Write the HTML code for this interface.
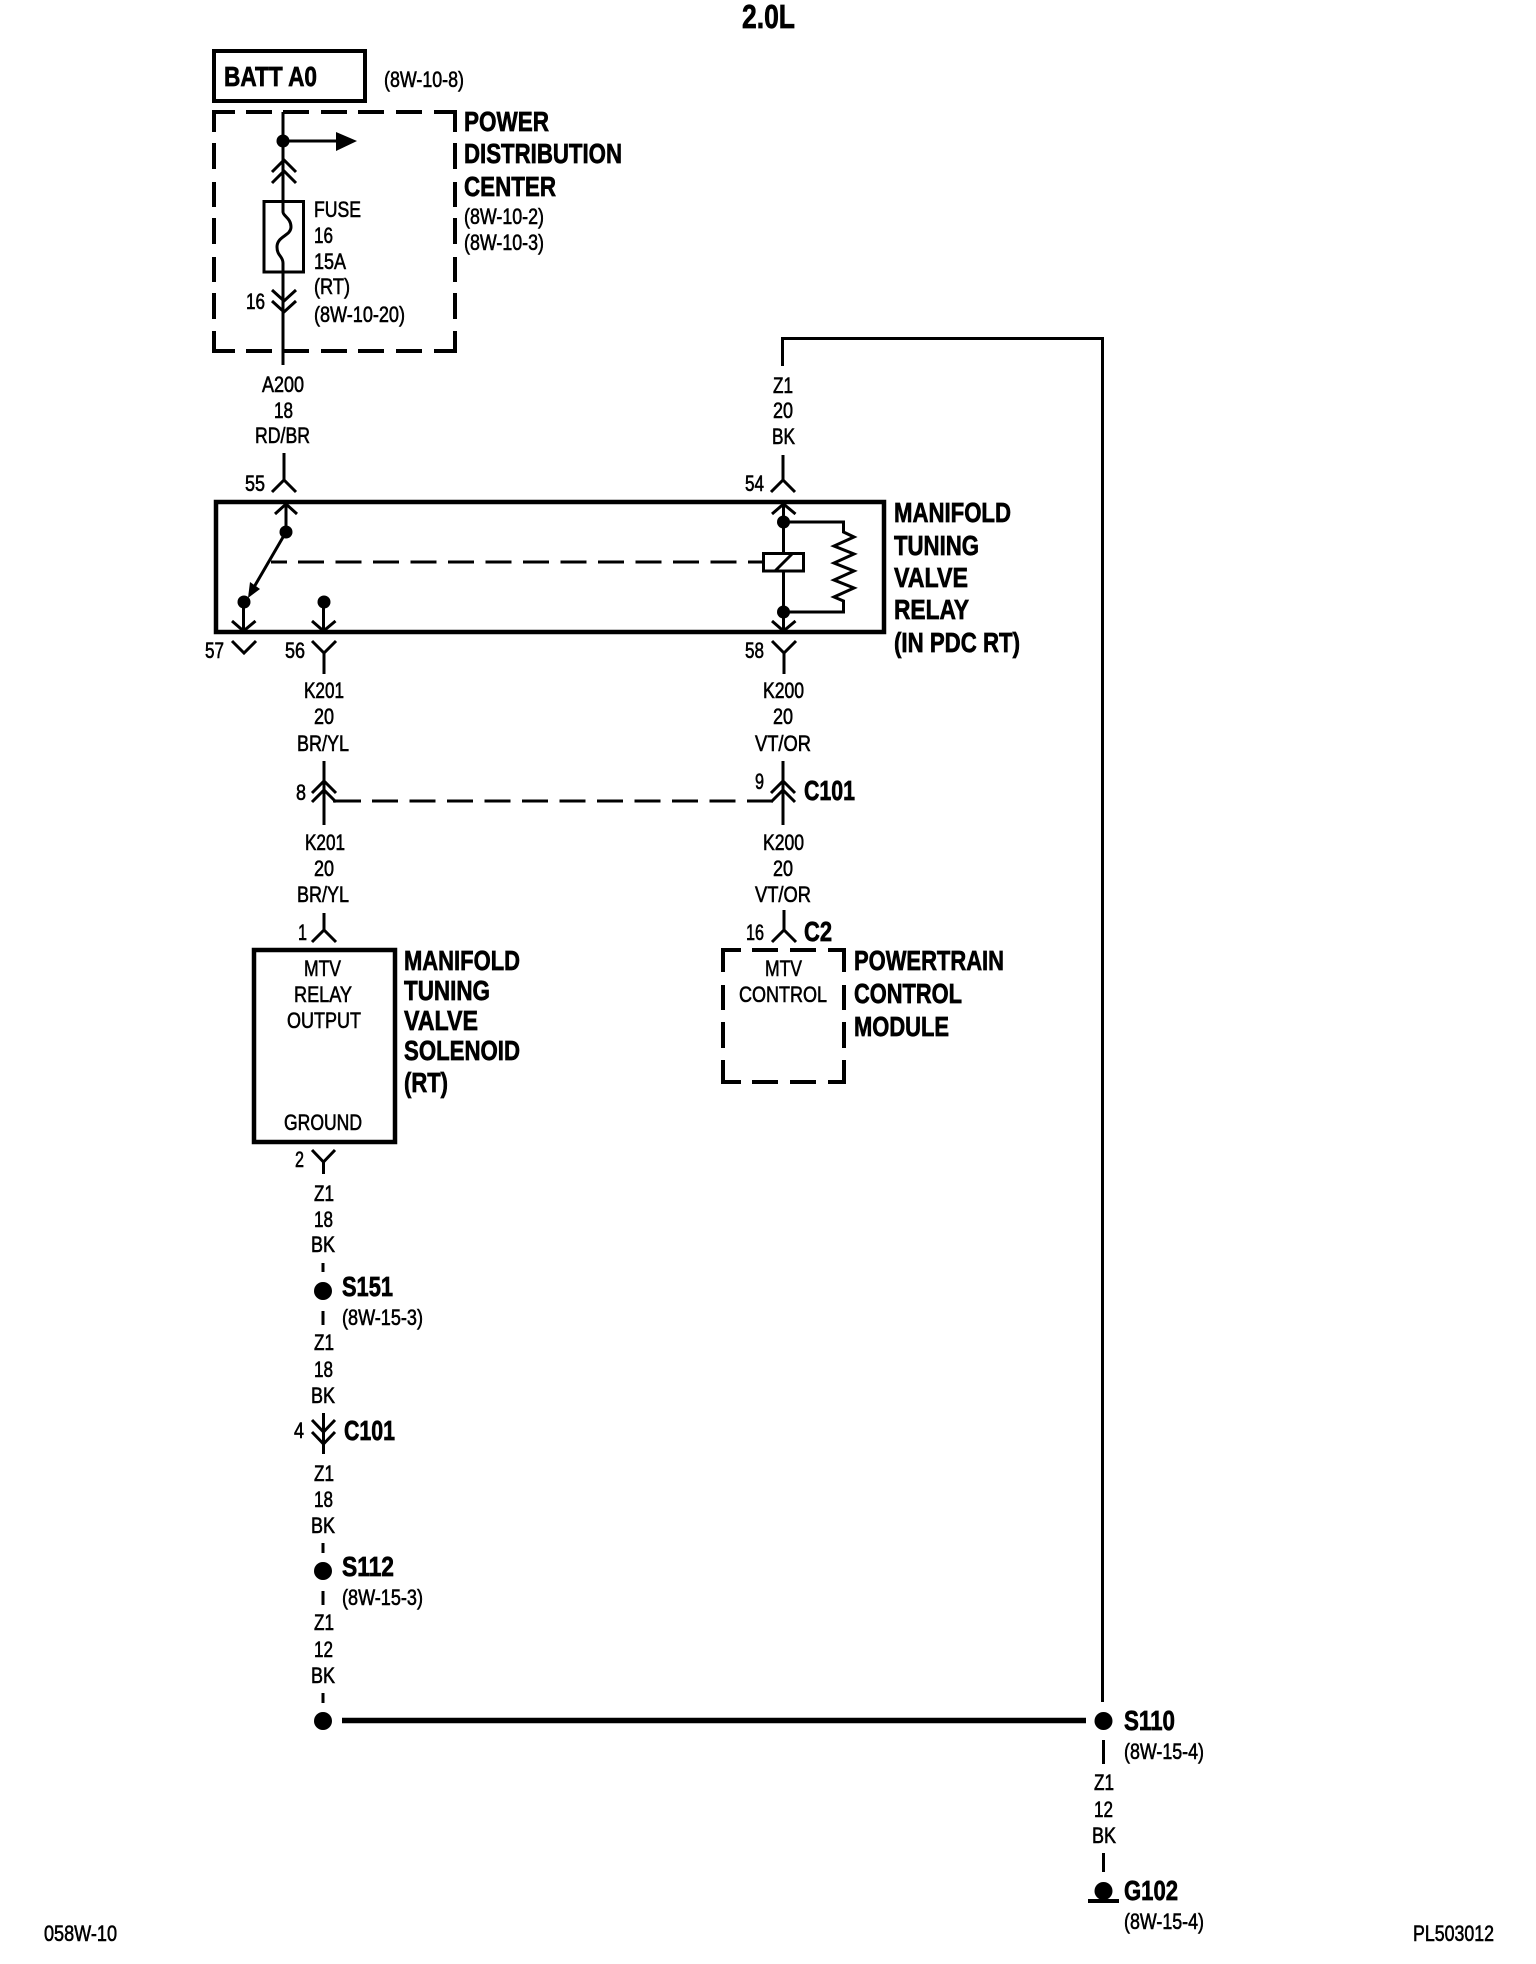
<!DOCTYPE html>
<html>
<head>
<meta charset="utf-8">
<title>2.0L Manifold Tuning Valve Wiring Diagram</title>
<style>
html,body{margin:0;padding:0;background:#fff;width:1536px;height:1964px;overflow:hidden}
svg{display:block}
text{font-family:"Liberation Sans",sans-serif;fill:#000}
.r{font-size:22px;stroke:#000;stroke-width:.6px}
.b{font-size:28px;font-weight:bold;stroke:#000;stroke-width:.7px}
.w{fill:none;stroke:#000;stroke-width:3;stroke-linejoin:miter;stroke-linecap:butt}
.t{fill:none;stroke:#000;stroke-width:4;stroke-linecap:butt}
.d{fill:#000;stroke:none}
</style>
</head>
<body>
<svg xmlns="http://www.w3.org/2000/svg" width="1536" height="1964" viewBox="0 0 1536 1964">
<rect width="1536" height="1964" fill="#fff"/>

<!-- title -->
<text class="b" style="font-size:33px" x="742" y="28" textLength="53" lengthAdjust="spacingAndGlyphs">2.0L</text>

<!-- BATT -->
<rect class="t" x="214" y="51" width="151" height="50"/>
<text class="b" style="font-size:28px" x="224" y="86" textLength="93" lengthAdjust="spacingAndGlyphs">BATT A0</text>
<text class="r" x="384" y="87" textLength="80" lengthAdjust="spacingAndGlyphs">(8W-10-8)</text>

<!-- PDC dashed box -->
<path class="t" d="M235 112H214V132M246 112H272M283 112H309M321 112H347M358 112H384M396 112H422M434 112H455V132
M214 143V169M214 182V207M214 218V244M214 257V282M214 293V319M214 331V351H235
M455 143V169M455 182V207M455 218V244M455 257V282M455 293V319M455 331V351H434
M246 351H272M283 351H309M321 351H347M358 351H384M396 351H422"/>

<!-- PDC internals -->
<path class="w" d="M283 112V212C283 216 291 218 291 227C291 236 277 236 277 247C277 256 283 256 283 263V365"/>
<circle class="d" cx="283" cy="141" r="6.5"/>
<path class="w" d="M283 141H340"/>
<polygon class="d" points="336,132 357,141 336,151"/>
<path class="w" d="M272 172L284 160L296 172M272 183L284 171L296 183"/>
<rect class="w" x="264" y="201.500" width="39.500" height="70.500"/>
<path class="w" d="M272 290L284 301L296 290M272 301L284 312L296 301"/>

<text class="r" x="314" y="217" textLength="47" lengthAdjust="spacingAndGlyphs">FUSE</text>
<text class="r" x="314" y="243" textLength="19" lengthAdjust="spacingAndGlyphs">16</text>
<text class="r" x="314" y="269" textLength="32" lengthAdjust="spacingAndGlyphs">15A</text>
<text class="r" x="314" y="294" textLength="36" lengthAdjust="spacingAndGlyphs">(RT)</text>
<text class="r" x="314" y="322" textLength="91" lengthAdjust="spacingAndGlyphs">(8W-10-20)</text>
<text class="r" x="246" y="309" textLength="19" lengthAdjust="spacingAndGlyphs">16</text>

<text class="b" x="464" y="131" textLength="85" lengthAdjust="spacingAndGlyphs">POWER</text>
<text class="b" x="464" y="163" textLength="158" lengthAdjust="spacingAndGlyphs">DISTRIBUTION</text>
<text class="b" x="464" y="196" textLength="92" lengthAdjust="spacingAndGlyphs">CENTER</text>
<text class="r" x="464" y="224" textLength="80" lengthAdjust="spacingAndGlyphs">(8W-10-2)</text>
<text class="r" x="464" y="250" textLength="80" lengthAdjust="spacingAndGlyphs">(8W-10-3)</text>

<!-- A200 -->
<text class="r" x="262" y="392" textLength="42" lengthAdjust="spacingAndGlyphs">A200</text>
<text class="r" x="274" y="418" textLength="19" lengthAdjust="spacingAndGlyphs">18</text>
<text class="r" x="255" y="443" textLength="55" lengthAdjust="spacingAndGlyphs">RD/BR</text>
<path class="w" d="M284 453V480M272 492L284 480L296 492"/>
<text class="r" x="245" y="491" textLength="20" lengthAdjust="spacingAndGlyphs">55</text>

<!-- Z1 top -->
<path class="w" d="M782.500 366V338.500H1102.500V1702"/>
<text class="r" x="773" y="393" textLength="20" lengthAdjust="spacingAndGlyphs">Z1</text>
<text class="r" x="773" y="418" textLength="20" lengthAdjust="spacingAndGlyphs">20</text>
<text class="r" x="772" y="444" textLength="23" lengthAdjust="spacingAndGlyphs">BK</text>
<path class="w" d="M783 455V480M771 492L783 480L795 492"/>
<text class="r" x="745" y="491" textLength="19" lengthAdjust="spacingAndGlyphs">54</text>

<!-- relay box -->
<rect x="216" y="502" width="668" height="130" fill="none" stroke="#000" stroke-width="4.500"/>
<path class="w" d="M275 514L286 504L297 514M286 504V532"/>
<circle class="d" cx="286" cy="532" r="6.500"/>
<path class="w" d="M286 532L250 594"/>
<polygon class="d" points="248,598 250,582 260,589"/>
<circle class="d" cx="244" cy="602" r="6.500"/>
<path class="w" d="M243.500 602V631M232 621L243.500 631L255.500 621"/>
<path class="w" d="M232 641L244 653L256 641"/>
<circle class="d" cx="324" cy="602" r="6.500"/>
<path class="w" d="M323.500 602V631M312 621L323.500 631L335.500 621"/>
<path class="w" d="M312 641L324 653L336 641M324 653V674"/>
<text class="r" x="205" y="658" textLength="19" lengthAdjust="spacingAndGlyphs">57</text>
<text class="r" x="285" y="658" textLength="20" lengthAdjust="spacingAndGlyphs">56</text>

<path class="w" d="M271 562H287"/>
<path class="w" d="M298 562H762" stroke-dasharray="26 11.500"/>

<path class="w" d="M772 514L783.500 504L795.500 514M783.500 504V553M783.500 571V631M772 621L783.500 631L795.500 621"/>
<circle class="d" cx="783.500" cy="522" r="6.500"/>
<circle class="d" cx="783.500" cy="612" r="6.500"/>
<rect class="w" x="763.500" y="553.500" width="40" height="17.500"/>
<path class="w" d="M775 571L792 554"/>
<path class="w" d="M783.500 522H843.500V532L854 537L834 546L854 554L834 563L854 571L834 580L854 588L834 597L843.500 601V612H783.500"/>
<path class="w" d="M772 641L784 653L796 641M784 653V674"/>
<text class="r" x="745" y="658" textLength="19" lengthAdjust="spacingAndGlyphs">58</text>

<text class="b" x="894" y="522" textLength="117" lengthAdjust="spacingAndGlyphs">MANIFOLD</text>
<text class="b" x="894" y="555" textLength="85" lengthAdjust="spacingAndGlyphs">TUNING</text>
<text class="b" x="894" y="587" textLength="74" lengthAdjust="spacingAndGlyphs">VALVE</text>
<text class="b" x="894" y="619" textLength="75" lengthAdjust="spacingAndGlyphs">RELAY</text>
<text class="b" x="894" y="652" textLength="126" lengthAdjust="spacingAndGlyphs">(IN PDC RT)</text>

<!-- K201 / K200 upper labels -->
<text class="r" x="304" y="698" textLength="40" lengthAdjust="spacingAndGlyphs">K201</text>
<text class="r" x="314" y="724" textLength="20" lengthAdjust="spacingAndGlyphs">20</text>
<text class="r" x="297" y="751" textLength="52" lengthAdjust="spacingAndGlyphs">BR/YL</text>
<text class="r" x="763" y="698" textLength="41" lengthAdjust="spacingAndGlyphs">K200</text>
<text class="r" x="773" y="724" textLength="20" lengthAdjust="spacingAndGlyphs">20</text>
<text class="r" x="755" y="751" textLength="56" lengthAdjust="spacingAndGlyphs">VT/OR</text>

<!-- C101 connectors -->
<path class="w" d="M324 761V825M312 793L324 781L336 793M312 802L324 790L336 802"/>
<path class="w" d="M783 761V825M771 793L783 781L795 793M771 802L783 790L795 802"/>
<path class="w" d="M333 801H361"/>
<path class="w" d="M372 801H773" stroke-dasharray="26 11.500"/>
<text class="r" x="296" y="800" textLength="10" lengthAdjust="spacingAndGlyphs">8</text>
<text class="r" x="755" y="789" textLength="9" lengthAdjust="spacingAndGlyphs">9</text>
<text class="b" x="804" y="800" textLength="51" lengthAdjust="spacingAndGlyphs">C101</text>

<text class="r" x="305" y="850" textLength="40" lengthAdjust="spacingAndGlyphs">K201</text>
<text class="r" x="314" y="876" textLength="20" lengthAdjust="spacingAndGlyphs">20</text>
<text class="r" x="297" y="902" textLength="52" lengthAdjust="spacingAndGlyphs">BR/YL</text>
<text class="r" x="763" y="850" textLength="41" lengthAdjust="spacingAndGlyphs">K200</text>
<text class="r" x="773" y="876" textLength="20" lengthAdjust="spacingAndGlyphs">20</text>
<text class="r" x="755" y="902" textLength="56" lengthAdjust="spacingAndGlyphs">VT/OR</text>

<!-- Solenoid -->
<path class="w" d="M324 913V930M312 942L324 930L336 942"/>
<text class="r" x="298" y="940" textLength="9" lengthAdjust="spacingAndGlyphs">1</text>
<rect x="254" y="950" width="141" height="192" fill="none" stroke="#000" stroke-width="4.500"/>
<text class="r" x="304" y="976" textLength="37" lengthAdjust="spacingAndGlyphs">MTV</text>
<text class="r" x="294" y="1002" textLength="58" lengthAdjust="spacingAndGlyphs">RELAY</text>
<text class="r" x="287" y="1028" textLength="74" lengthAdjust="spacingAndGlyphs">OUTPUT</text>
<text class="r" x="284" y="1130" textLength="78" lengthAdjust="spacingAndGlyphs">GROUND</text>
<text class="b" x="404" y="970" textLength="116" lengthAdjust="spacingAndGlyphs">MANIFOLD</text>
<text class="b" x="404" y="1000" textLength="86" lengthAdjust="spacingAndGlyphs">TUNING</text>
<text class="b" x="404" y="1030" textLength="74" lengthAdjust="spacingAndGlyphs">VALVE</text>
<text class="b" x="404" y="1060" textLength="116" lengthAdjust="spacingAndGlyphs">SOLENOID</text>
<text class="b" x="404" y="1092" textLength="44" lengthAdjust="spacingAndGlyphs">(RT)</text>

<!-- PCM -->
<path class="w" d="M784 910V930M772 942L784 930L796 942"/>
<text class="r" x="746" y="940" textLength="18" lengthAdjust="spacingAndGlyphs">16</text>
<text class="b" x="804" y="941" textLength="28" lengthAdjust="spacingAndGlyphs">C2</text>
<path class="t" d="M741 950H723V972M752 950H778M790 950H816M828 950H844V972
M723 985V1010M723 1022V1048M723 1060V1082H741
M844 985V1010M844 1022V1048M844 1060V1082H828
M752 1082H778M790 1082H816"/>
<text class="r" x="765" y="976" textLength="37" lengthAdjust="spacingAndGlyphs">MTV</text>
<text class="r" x="739" y="1002" textLength="88" lengthAdjust="spacingAndGlyphs">CONTROL</text>
<text class="b" x="854" y="970" textLength="150" lengthAdjust="spacingAndGlyphs">POWERTRAIN</text>
<text class="b" x="854" y="1003" textLength="108" lengthAdjust="spacingAndGlyphs">CONTROL</text>
<text class="b" x="854" y="1036" textLength="95" lengthAdjust="spacingAndGlyphs">MODULE</text>

<!-- ground run -->
<path class="w" d="M312 1150L323.500 1162L335 1150M323.500 1162V1174"/>
<text class="r" x="295" y="1167" textLength="9" lengthAdjust="spacingAndGlyphs">2</text>
<text class="r" x="314" y="1201" textLength="20" lengthAdjust="spacingAndGlyphs">Z1</text>
<text class="r" x="314" y="1227" textLength="19" lengthAdjust="spacingAndGlyphs">18</text>
<text class="r" x="311" y="1252" textLength="24" lengthAdjust="spacingAndGlyphs">BK</text>
<path class="w" d="M323 1263V1272"/>
<circle class="d" cx="323" cy="1291" r="9"/>
<text class="b" x="342" y="1296" textLength="51" lengthAdjust="spacingAndGlyphs">S151</text>
<path class="w" d="M323 1311V1325"/>
<text class="r" x="342" y="1325" textLength="81" lengthAdjust="spacingAndGlyphs">(8W-15-3)</text>
<text class="r" x="314" y="1350" textLength="20" lengthAdjust="spacingAndGlyphs">Z1</text>
<text class="r" x="314" y="1377" textLength="19" lengthAdjust="spacingAndGlyphs">18</text>
<text class="r" x="311" y="1403" textLength="24" lengthAdjust="spacingAndGlyphs">BK</text>

<path class="w" d="M323.500 1413V1454M312 1420L323.500 1432L335 1420M312 1432L323.500 1444L335 1432"/>
<text class="r" x="294" y="1438" textLength="10" lengthAdjust="spacingAndGlyphs">4</text>
<text class="b" x="344" y="1440" textLength="51" lengthAdjust="spacingAndGlyphs">C101</text>

<text class="r" x="314" y="1481" textLength="20" lengthAdjust="spacingAndGlyphs">Z1</text>
<text class="r" x="314" y="1507" textLength="19" lengthAdjust="spacingAndGlyphs">18</text>
<text class="r" x="311" y="1533" textLength="24" lengthAdjust="spacingAndGlyphs">BK</text>
<path class="w" d="M323 1543V1553"/>
<circle class="d" cx="323" cy="1571" r="9"/>
<text class="b" x="342" y="1576" textLength="52" lengthAdjust="spacingAndGlyphs">S112</text>
<path class="w" d="M323 1591V1605"/>
<text class="r" x="342" y="1605" textLength="81" lengthAdjust="spacingAndGlyphs">(8W-15-3)</text>
<text class="r" x="314" y="1630" textLength="20" lengthAdjust="spacingAndGlyphs">Z1</text>
<text class="r" x="314" y="1657" textLength="19" lengthAdjust="spacingAndGlyphs">12</text>
<text class="r" x="311" y="1683" textLength="24" lengthAdjust="spacingAndGlyphs">BK</text>
<path class="w" d="M323 1693V1703"/>
<circle class="d" cx="323" cy="1721" r="9"/>
<path d="M342 1720.500H1086" fill="none" stroke="#000" stroke-width="5.500"/>

<!-- S110 / G102 -->
<circle class="d" cx="1103.500" cy="1721" r="9"/>
<text class="b" x="1124" y="1730" textLength="51" lengthAdjust="spacingAndGlyphs">S110</text>
<path class="w" d="M1103.500 1740V1764"/>
<text class="r" x="1124" y="1759" textLength="80" lengthAdjust="spacingAndGlyphs">(8W-15-4)</text>
<text class="r" x="1094" y="1790" textLength="20" lengthAdjust="spacingAndGlyphs">Z1</text>
<text class="r" x="1094" y="1817" textLength="19" lengthAdjust="spacingAndGlyphs">12</text>
<text class="r" x="1092" y="1843" textLength="24" lengthAdjust="spacingAndGlyphs">BK</text>
<path class="w" d="M1103.500 1853V1872"/>
<circle class="d" cx="1103.500" cy="1891" r="9"/>
<path d="M1088 1901H1119" fill="none" stroke="#000" stroke-width="4"/>
<text class="b" x="1124" y="1900" textLength="54" lengthAdjust="spacingAndGlyphs">G102</text>
<text class="r" x="1124" y="1929" textLength="80" lengthAdjust="spacingAndGlyphs">(8W-15-4)</text>

<!-- footer -->
<text class="r" x="44" y="1941" textLength="73" lengthAdjust="spacingAndGlyphs">058W-10</text>
<text class="r" x="1413" y="1941" textLength="81" lengthAdjust="spacingAndGlyphs">PL503012</text>
</svg>
</body>
</html>
